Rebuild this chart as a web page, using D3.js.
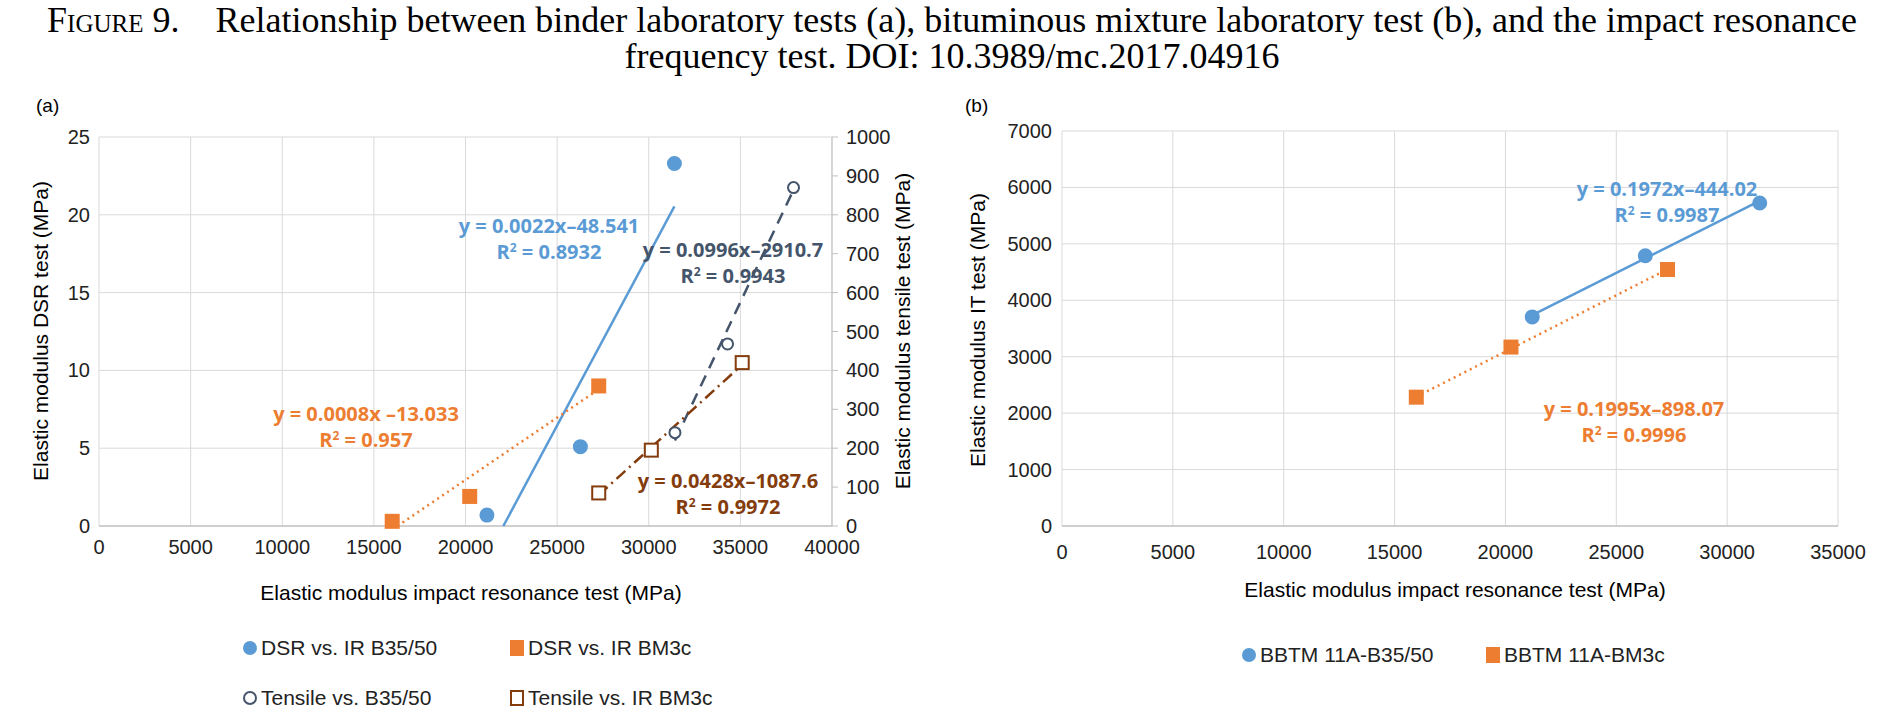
<!DOCTYPE html>
<html>
<head>
<meta charset="utf-8">
<script src="https://cdn.jsdelivr.net/npm/d3@7"></script>
<style>
  body { margin: 0; background: #fff; }
  text { font-family: "Liberation Sans Narrow", "Liberation Sans", Arial, sans-serif; }
  .eq { font-family: "Liberation Sans Narrow", "Open Sans", sans-serif; font-weight: bold; font-size: 20px; }
</style>
</head>
<body>
<svg id="chart" width="1904" height="712"></svg>
<script>
// panel (a)
var dsrB35 = [[21170, 0.7], [26270, 5.1], [31400, 23.3]];
var dsrBM3c = [[16000, 0.3], [20230, 1.9], [27270, 9.0]];
var tensileB35 = [[31430, 240], [34300, 468], [37900, 870]];
var tensileBM3c = [[27270, 85], [30140, 195], [35100, 420]];
// panel (b)
var bbtmB35 = [[21210, 3706], [26310, 4788], [31470, 5725]];
var bbtmBM3c = [[15980, 2283], [20250, 3171], [27310, 4545]];

var xTicksA = d3.range(0, 40001, 5000);
var yTicksA = d3.range(0, 26, 5);
var y2TicksA = d3.range(0, 1001, 100);
var xTicksB = d3.range(0, 35001, 5000);
var yTicksB = d3.range(0, 7001, 1000);

var blue = "#5b9bd5", orange = "#ed7d31", slate = "#44546a", brown = "#843c0c";
var svg = d3.select("#chart");

// title
svg.append("text").attr("x", 952).attr("y", 32).attr("text-anchor", "middle")
  .style("font-family", "'Liberation Serif', 'DejaVu Serif', serif").style("font-size", "36px")
  .html('<tspan style="font-variant:small-caps">Figure</tspan> 9.\u2003Relationship between binder laboratory tests (a), bituminous mixture laboratory test (b), and the impact resonance');
svg.append("text").attr("x", 952).attr("y", 68).attr("text-anchor", "middle")
  .style("font-family", "'Liberation Serif', 'DejaVu Serif', serif").style("font-size", "36px")
  .text("frequency test. DOI: 10.3989/mc.2017.04916");

function grid(g, x, y, xt, yt) {
  g.selectAll(".gx").data(xt).enter().append("line")
    .attr("x1", x).attr("x2", x).attr("y1", y.range()[0]).attr("y2", y.range()[1])
    .attr("stroke", "#d9d9d9");
  g.selectAll(".gy").data(yt).enter().append("line")
    .attr("y1", y).attr("y2", y).attr("x1", x.range()[0]).attr("x2", x.range()[1])
    .attr("stroke", function(d) { return d === 0 ? "#bfbfbf" : "#d9d9d9"; })
    .attr("stroke-width", function(d) { return d === 0 ? 1.5 : 1; });
}
function tickText(g, vals, fx, fy, anchor) {
  g.selectAll(null).data(vals).enter().append("text")
    .attr("x", fx).attr("y", fy).attr("text-anchor", anchor)
    .style("font-size", "20px").attr("fill", "#222").text(function(d) { return d; });
}
function trend(g, x, y, a, b, x0, x1, color, dash, ymin) {
  var pts = [x0, x1].map(function(v) { return [v, a * v + b]; });
  if (pts[0][1] < ymin) pts[0] = [(ymin - b) / a, ymin];
  g.append("path").attr("d", d3.line().x(function(d) { return x(d[0]); }).y(function(d) { return y(d[1]); })(pts))
    .attr("fill", "none").attr("stroke", color).attr("stroke-width", 2.5)
    .attr("stroke-dasharray", dash);
}
function marks(g, data, x, y, shape, color, filled) {
  var sel = g.selectAll(null).data(data).enter();
  if (shape === "circle") {
    sel.append("circle").attr("cx", function(d) { return x(d[0]); }).attr("cy", function(d) { return y(d[1]); })
      .attr("r", filled ? 6.5 : 5.5).attr("fill", filled ? color : "#fff").attr("stroke", color).attr("stroke-width", 2);
  } else {
    sel.append("rect").attr("x", function(d) { return x(d[0]) - 6.5; }).attr("y", function(d) { return y(d[1]) - 6.5; })
      .attr("width", 13).attr("height", 13).attr("fill", filled ? color : "#fff").attr("stroke", color).attr("stroke-width", 2);
  }
}
function label(g, x, y, lines, color) {
  lines.forEach(function(t, i) {
    g.append("text").attr("class", "eq").attr("x", x).attr("y", y + i * 26).attr("text-anchor", "middle")
      .attr("fill", color).html(t);
  });
}
function legendItem(g, x, y, shape, color, filled, t) {
  if (shape === "circle") g.append("circle").attr("cx", x).attr("cy", y).attr("r", 6).attr("fill", filled ? color : "#fff").attr("stroke", color).attr("stroke-width", 2);
  else g.append("rect").attr("x", x - 6).attr("y", y - 7).attr("width", 12).attr("height", 14).attr("fill", filled ? color : "#fff").attr("stroke", color).attr("stroke-width", 2);
  g.append("text").attr("x", x + 11).attr("y", y + 7).style("font-size", "21px").attr("fill", "#222").text(t);
}

// ---------- panel (a)
var ga = svg.append("g");
var xa = d3.scaleLinear().domain([0, 40000]).range([99, 832]);
var ya = d3.scaleLinear().domain([0, 25]).range([526, 137]);
var y2a = d3.scaleLinear().domain([0, 1000]).range([526, 137]);
grid(ga, xa, ya, xTicksA, yTicksA);
ga.append("line").attr("x1", 832).attr("x2", 832).attr("y1", 137).attr("y2", 526).attr("stroke", "#bfbfbf");
ga.selectAll(null).data(y2TicksA).enter().append("line").attr("x1", 832).attr("x2", 838)
  .attr("y1", y2a).attr("y2", y2a).attr("stroke", "#bfbfbf");
tickText(ga, xTicksA, xa, 554, "middle");
tickText(ga, yTicksA, 90, function(d) { return ya(d) + 7; }, "end");
tickText(ga, y2TicksA, 846, function(d) { return y2a(d) + 7; }, "start");
ga.append("text").attr("x", 36).attr("y", 112).style("font-size", "19px").text("(a)");
ga.append("text").attr("transform", "translate(48,331) rotate(-90)").attr("text-anchor", "middle").style("font-size", "21px").text("Elastic modulus DSR test (MPa)");
ga.append("text").attr("transform", "translate(910,331) rotate(-90)").attr("text-anchor", "middle").style("font-size", "21px").text("Elastic modulus tensile test (MPa)");
ga.append("text").attr("x", 471).attr("y", 600).attr("text-anchor", "middle").style("font-size", "21px").text("Elastic modulus impact resonance test (MPa)");

trend(ga, xa, ya, 0.0022, -48.541, 21170, 31400, blue, null, 0);
trend(ga, xa, ya, 0.0008, -13.033, 16000, 27270, orange, "2,4", 0);
trend(ga, xa, y2a, 0.0996, -2910.7, 31430, 37900, slate, "12,8", 0);
trend(ga, xa, y2a, 0.0428, -1087.6, 27270, 35100, brown, "12,5,2,5", 0);
marks(ga, dsrB35, xa, ya, "circle", blue, true);
marks(ga, dsrBM3c, xa, ya, "rect", orange, true);
marks(ga, tensileB35, xa, y2a, "circle", slate, false);
marks(ga, tensileBM3c, xa, y2a, "rect", brown, false);
label(ga, 549, 233, ["y = 0.0022x\u201348.541", "R<tspan dy='-7' font-size='12'>2</tspan><tspan dy='7'> = 0.8932</tspan>"], blue);
label(ga, 366, 421, ["y = 0.0008x \u201313.033", "R<tspan dy='-7' font-size='12'>2</tspan><tspan dy='7'> = 0.957</tspan>"], orange);
label(ga, 733, 257, ["y = 0.0996x\u20132910.7", "R<tspan dy='-7' font-size='12'>2</tspan><tspan dy='7'> = 0.9943</tspan>"], slate);
label(ga, 728, 488, ["y = 0.0428x\u20131087.6", "R<tspan dy='-7' font-size='12'>2</tspan><tspan dy='7'> = 0.9972</tspan>"], brown);
legendItem(ga, 250, 648, "circle", blue, true, "DSR vs. IR B35/50");
legendItem(ga, 517, 648, "rect", orange, true, "DSR vs. IR BM3c");
legendItem(ga, 250, 698, "circle", slate, false, "Tensile vs. B35/50");
legendItem(ga, 517, 698, "rect", brown, false, "Tensile vs. IR BM3c");

// ---------- panel (b)
var gb = svg.append("g");
var xb = d3.scaleLinear().domain([0, 35000]).range([1062, 1838]);
var yb = d3.scaleLinear().domain([0, 7000]).range([526, 131]);
grid(gb, xb, yb, xTicksB, yTicksB);
tickText(gb, xTicksB, xb, 559, "middle");
tickText(gb, yTicksB, 1052, function(d) { return yb(d) + 7; }, "end");
gb.append("text").attr("x", 965).attr("y", 112).style("font-size", "19px").text("(b)");
gb.append("text").attr("transform", "translate(985,330) rotate(-90)").attr("text-anchor", "middle").style("font-size", "21px").text("Elastic modulus IT test (MPa)");
gb.append("text").attr("x", 1455).attr("y", 597).attr("text-anchor", "middle").style("font-size", "21px").text("Elastic modulus impact resonance test (MPa)");
trend(gb, xb, yb, 0.1972, -444.02, 21210, 31470, blue, null, 0);
trend(gb, xb, yb, 0.1995, -898.07, 15980, 27310, orange, "2,4", 0);
marks(gb, bbtmB35, xb, yb, "circle", blue, true);
marks(gb, bbtmBM3c, xb, yb, "rect", orange, true);
label(gb, 1667, 196, ["y = 0.1972x\u2013444.02", "R<tspan dy='-7' font-size='12'>2</tspan><tspan dy='7'> = 0.9987</tspan>"], blue);
label(gb, 1634, 416, ["y = 0.1995x\u2013898.07", "R<tspan dy='-7' font-size='12'>2</tspan><tspan dy='7'> = 0.9996</tspan>"], orange);
legendItem(gb, 1249, 655, "circle", blue, true, "BBTM 11A-B35/50");
legendItem(gb, 1493, 655, "rect", orange, true, "BBTM 11A-BM3c");
</script>
</body>
</html>
